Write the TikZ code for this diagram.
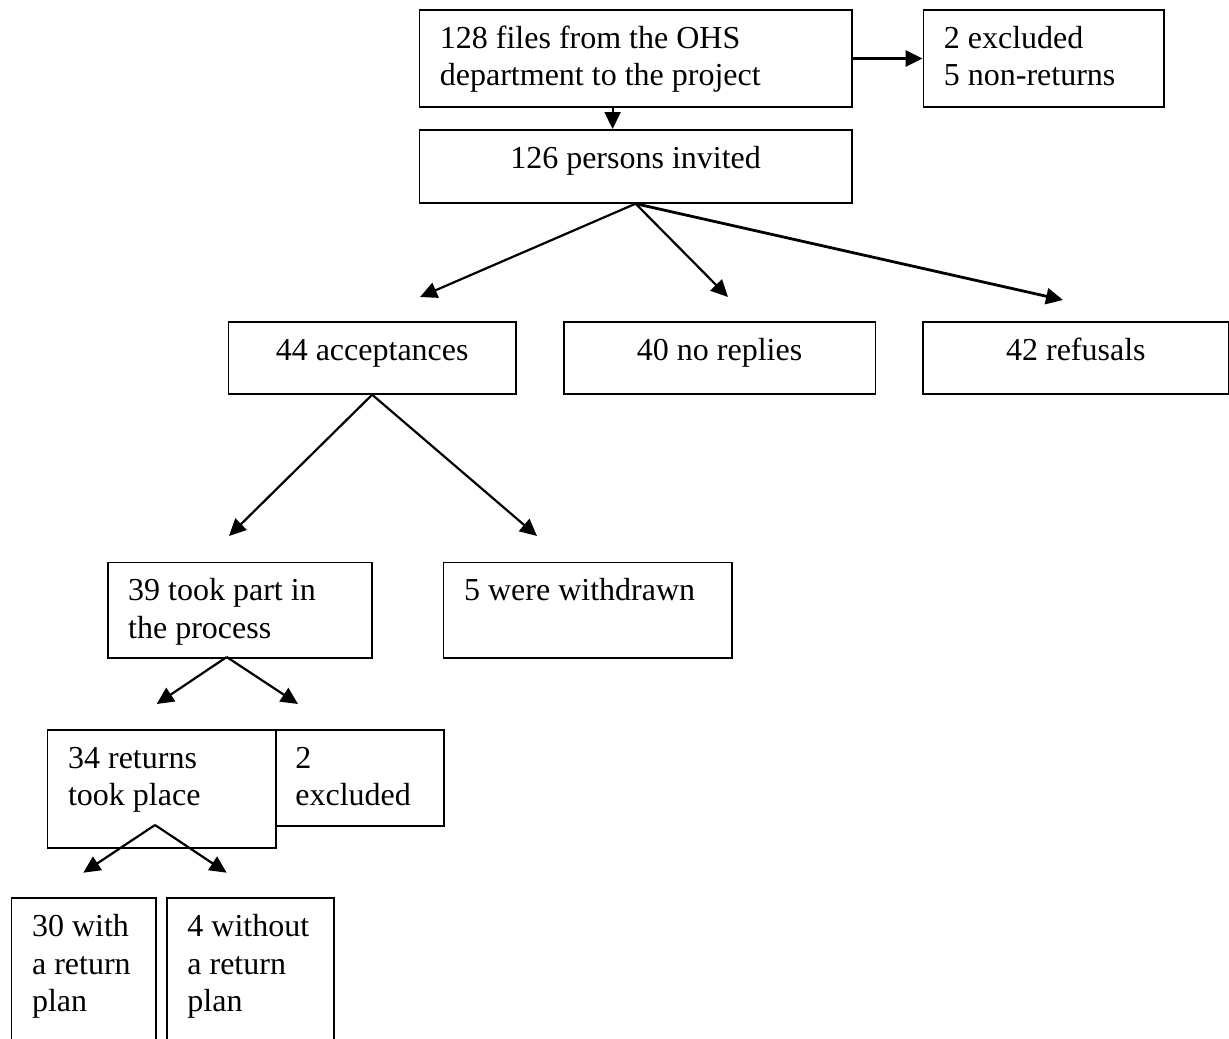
\documentclass[tikz,border=0pt]{standalone}
\usepackage{fontspec}
\setmainfont{Liberation Serif}
\usetikzlibrary{arrows.meta,calc}
\newcommand{\mlines}[1]{\vtop{\halign{##\hfil\cr#1\crcr}}}
\begin{document}
\begin{tikzpicture}[x=0.5pt,y=-0.5pt,
  box/.style={draw,line width=0.85pt,inner sep=0,anchor=north west},
  txt/.style={inner sep=0,font=\fontsize{16}{18.75}\selectfont},
  arr/.style={-{Triangle[length=8.5pt,width=8pt]},line width=1.1pt},
  arrb/.style={arr,line width=1.4pt}]
\clip (0,0) rectangle (1229,1038);
\useasboundingbox (0,0) rectangle (1229,1038);
% boxes
\node[box,minimum width=216.25pt,minimum height=48.35pt] (b1) at (418.5,9.3) {};
\node[box,minimum width=120.25pt,minimum height=48.35pt] (b2) at (922.5,9.3) {};
\node[box,minimum width=216.25pt,minimum height=36.5pt] (b3) at (418.5,129) {};
\node[box,minimum width=143.7pt,minimum height=36pt] (bAcc) at (227.6,321) {};
\node[box,minimum width=155.75pt,minimum height=36pt] (bNo) at (563,321) {};
\node[box,minimum width=153pt,minimum height=36pt] (bRef) at (922,321) {};
\node[box,minimum width=132.1pt,minimum height=47.65pt] (b39) at (106.8,561.7) {};
\node[box,minimum width=144.15pt,minimum height=47.65pt] (b5) at (442.7,561.7) {};
\node[box,minimum width=114.15pt,minimum height=59pt] (b34) at (46.7,729.3) {};
\node[box,minimum width=84.15pt,minimum height=47.85pt] (bEx) at (275,729.3) {};
\node[box,minimum width=72.15pt,minimum height=80pt] (b30) at (10.7,897.3) {};
\node[box,minimum width=83.65pt,minimum height=80pt] (b4) at (166,897.3) {};
% texts
\node[txt,anchor=base west] (t1) at ($(b1.north west)+(21,39)$) {\mlines{128 files from the OHS\cr department to the project}};
\node[txt,anchor=base west] (t2) at ($(b2.north west)+(21,39)$) {\mlines{2 excluded\cr 5 non-returns}};
\node[txt,anchor=base] (t3) at ($(b3.north)+(0,39)$) {126 persons invited};
\node[txt,anchor=base] (tAcc) at ($(bAcc.north)+(0,39)$) {44 acceptances};
\node[txt,anchor=base] (tNo) at ($(bNo.north)+(0,39)$) {40 no replies};
\node[txt,anchor=base] (tRef) at ($(bRef.north)+(0,39)$) {42 refusals};
\node[txt,anchor=base west] (t39) at ($(b39.north west)+(21,39)$) {\mlines{39 took part in\cr the process}};
\node[txt,anchor=base west] (t5) at ($(b5.north west)+(21,39)$) {5 were withdrawn};
\node[txt,anchor=base west] (t34) at ($(b34.north west)+(21,39)$) {\mlines{34 returns\cr took place}};
\node[txt,anchor=base west] (tEx) at ($(bEx.north west)+(20,39)$) {\mlines{2\cr excluded}};
\node[txt,anchor=base west] (t30) at ($(b30.north west)+(21,39.4)$) {\mlines{30 with\cr a return\cr plan}};
\node[txt,anchor=base west] (t4) at ($(b4.north west)+(21,39.4)$) {\mlines{4 without\cr a return\cr plan}};
% connector ends
\coordinate (eAcc) at (420,297);
\coordinate (eNo) at (728,297);
\coordinate (eRef) at (1063,300);
\coordinate (e39) at (229,536);
\coordinate (e5) at (537,536);
\coordinate (o39) at (226.7,657);
\coordinate (e34) at (156.7,704);
\coordinate (eEx) at (298,704);
\coordinate (o34) at (155,825);
\coordinate (e30) at (83.3,872.7);
\coordinate (e4) at (226.7,872.7);
% connectors
\draw[arrb] (b1.east) -- (b2.west);
\draw[arr] ($(b1.south)+(-23,0)$) -- ($(b3.north)+(-23,0)$);
\draw[arr] (b3.south) -- (eAcc);
\draw[arr] (b3.south) -- (eNo);
\draw[arrb] (b3.south) -- (eRef);
\draw[arr] (bAcc.south) -- (e39);
\draw[arr] (bAcc.south) -- (e5);
\draw[arr] (o39) -- (e34);
\draw[arr] (o39) -- (eEx);
\draw[arr] (o34) -- (e30);
\draw[arr] (o34) -- (e4);
\end{tikzpicture}
\end{document}
